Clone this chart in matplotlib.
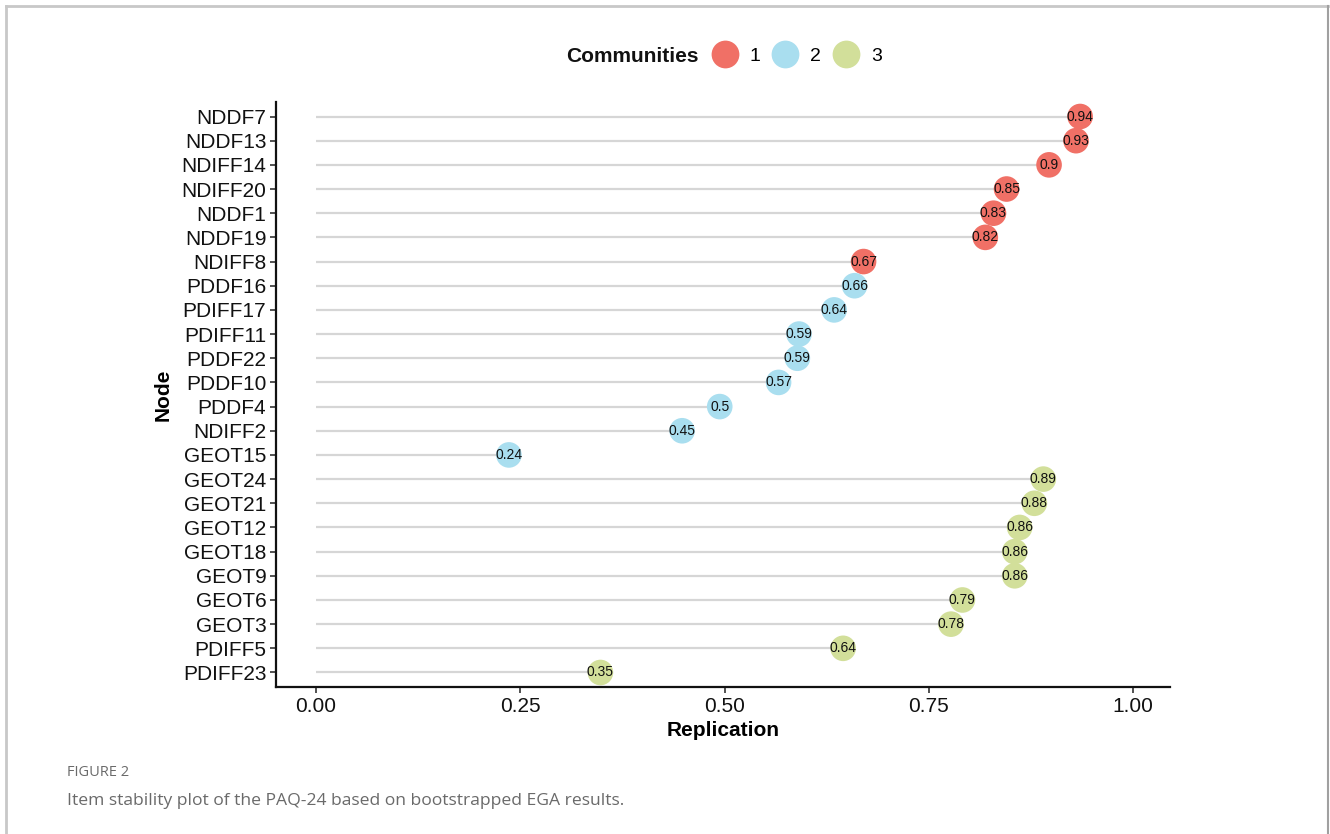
import matplotlib
matplotlib.use('Agg')
import matplotlib.pyplot as plt
from matplotlib.lines import Line2D

plt.rcParams['font.family'] = ['Liberation Sans', 'DejaVu Sans']

# ---- data (top to bottom as in the figure) ----
nodes = ['NDDF7', 'NDDF13', 'NDIFF14', 'NDIFF20', 'NDDF1', 'NDDF19', 'NDIFF8',
         'PDDF16', 'PDIFF17', 'PDIFF11', 'PDDF22', 'PDDF10', 'PDDF4', 'NDIFF2',
         'GEOT15',
         'GEOT24', 'GEOT21', 'GEOT12', 'GEOT18', 'GEOT9', 'GEOT6', 'GEOT3',
         'PDIFF5', 'PDIFF23']
replication = [0.935, 0.930, 0.897, 0.845, 0.829, 0.819, 0.670,
               0.659, 0.634, 0.591, 0.589, 0.566, 0.494, 0.448, 0.236,
               0.890, 0.879, 0.861, 0.855, 0.855, 0.791, 0.777, 0.645, 0.348]
value_labels = ['0.94', '0.93', '0.9', '0.85', '0.83', '0.82', '0.67',
                '0.66', '0.64', '0.59', '0.59', '0.57', '0.5', '0.45', '0.24',
                '0.89', '0.88', '0.86', '0.86', '0.86', '0.79', '0.78', '0.64',
                '0.35']
community = [1, 1, 1, 1, 1, 1, 1,
             2, 2, 2, 2, 2, 2, 2, 2,
             3, 3, 3, 3, 3, 3, 3, 3, 3]

comm_ids = [1, 2, 3]
comm_colors = {1: '#F07066', 2: '#A9DEEF', 3: '#D2DF9A'}

# ---- figure ----
fig = plt.figure(figsize=(13.3, 8.34), dpi=100)

# outer frame (left, top, right)
fig.add_artist(Line2D([6 / 1330, 6 / 1330], [0, 1 - 6 / 834],
                      transform=fig.transFigure, color='#c8c8c8', lw=2))
fig.add_artist(Line2D([6 / 1330, 1328 / 1330], [1 - 6 / 834, 1 - 6 / 834],
                      transform=fig.transFigure, color='#c8c8c8', lw=2))
fig.add_artist(Line2D([1328 / 1330, 1328 / 1330], [0, 1 - 6 / 834],
                      transform=fig.transFigure, color='#a0a0a0', lw=1.5))

ax = fig.add_axes([276 / 1330, 1 - 687 / 834, (1170 - 276) / 1330,
                   (687 - 102) / 834])

n = len(nodes)
ypos = [n - i for i in range(n)]

for y, v in zip(ypos, replication):
    ax.plot([0, v], [y, y], color='#d6d6d6', lw=1.6, zorder=1,
            solid_capstyle='butt')

ax.scatter(replication, ypos, s=340,
           c=[comm_colors[c] for c in community], edgecolors='none', zorder=2)

for y, v, lab in zip(ypos, replication, value_labels):
    ax.text(v, y, lab, ha='center', va='center', fontsize=10,
            color='#111111', zorder=3)

ax.set_yticks(ypos)
ax.set_yticklabels(nodes, fontsize=15, color='#111111')
ax.set_xticks([0, 0.25, 0.5, 0.75, 1.0])
ax.set_xticklabels(['0.00', '0.25', '0.50', '0.75', '1.00'], fontsize=15,
                   color='#111111')
ax.set_xlim(-0.049, 1.045)
ax.set_ylim(0.4, n + 0.6)

ax.set_xlabel('Replication', fontsize=15, fontweight='bold', labelpad=4)
ax.set_ylabel('Node', fontsize=15, fontweight='bold', labelpad=6)

for side in ['top', 'right']:
    ax.spines[side].set_visible(False)
for side in ['left', 'bottom']:
    ax.spines[side].set_linewidth(1.6)
    ax.spines[side].set_color('#111111')
ax.tick_params(axis='both', length=4, width=1.2, color='#333333', pad=3)

# ---- legend ----
fig.text(699 / 1330, 1 - 56 / 834, 'Communities', ha='right', va='center',
         fontsize=15, fontweight='bold', color='#111111')
handles = [Line2D([], [], marker='o', ls='none', markersize=20,
                  markerfacecolor=comm_colors[c], markeredgecolor='none')
           for c in comm_ids]
fig.legend(handles, [str(c) for c in comm_ids], ncol=3, frameon=False,
           loc='center left', bbox_to_anchor=(713 / 1330, 1 - 56 / 834),
           fontsize=14, handlelength=1.2, handletextpad=0.7,
           columnspacing=0.65, borderpad=0, borderaxespad=0)

# ---- caption ----
fig.text(67 / 1330, 1 - 773 / 834, 'FIGURE 2', ha='left', va='center',
         fontsize=10.5, color='#6a6a6a', family=['Open Sans', 'DejaVu Sans'])
fig.text(67 / 1330, 1 - 801 / 834,
         'Item stability plot of the PAQ-24 based on bootstrapped EGA results.',
         ha='left', va='center', fontsize=12.6, color='#6a6a6a',
         family=['Open Sans', 'DejaVu Sans'])

fig.savefig('out.png', dpi=100)
